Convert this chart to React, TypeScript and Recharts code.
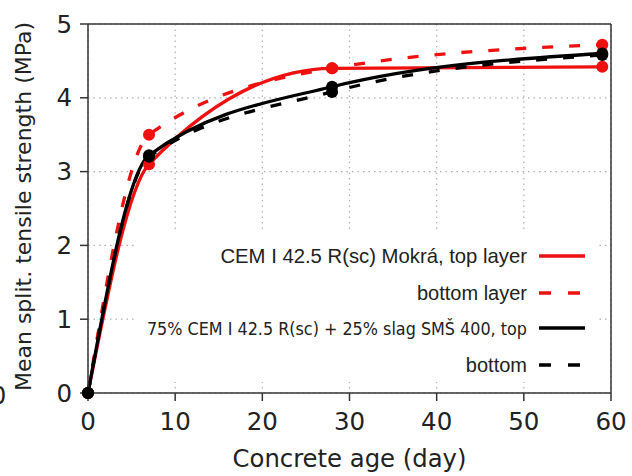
import { CartesianGrid, Label, Legend, Line, LineChart, ReferenceLine, XAxis, YAxis } from "recharts";

// concrete age (days) and mean splitting tensile strength (MPa)
const days = [0, 7, 28, 59];
const cemTop = [0, 3.1, 4.4, 4.42];
const cemBottom = [0, 3.5, 4.4, 4.72];
const slagTop = [0, 3.22, 4.15, 4.6];
const slagBottom = [0, 3.2, 4.08, 4.58];

const xTicks = [0, 10, 20, 30, 40, 50, 60];
const yTicks = [0, 1, 2, 3, 4, 5];

const data = days.map((d, i) => ({
  day: d,
  cemTop: cemTop[i],
  cemBottom: cemBottom[i],
  slagTop: slagTop[i],
  slagBottom: slagBottom[i],
}));

const RED = "#ef1010";
const BLACK = "#000";
const AXIS = "#333";
const TEXT = "#222";
const DV = "'DejaVu Sans', sans-serif";
const ARIAL = "'Liberation Sans', Arial, sans-serif";
const CONDENSED = "'DejaVu Sans Condensed', 'DejaVu Sans', sans-serif";

const series = [
  { key: "cemTop", label: "CEM I 42.5 R(sc) Mokrá, top layer", color: RED, dash: undefined, font: ARIAL, size: 20.3 },
  { key: "cemBottom", label: "bottom layer", color: RED, dash: "11 16", font: ARIAL, size: 20 },
  { key: "slagTop", label: "75% CEM I 42.5 R(sc) + 25% slag SMŠ 400, top", color: BLACK, dash: undefined, font: CONDENSED, size: 17.8 },
  { key: "slagBottom", label: "bottom", color: BLACK, dash: "11 16", font: ARIAL, size: 20 },
];

const rowY = [24, 61, 96, 133];

function LegendBox() {
  return (
    <svg width={462} height={150} style={{ display: "block" }}>
      {series.map((s, i) => (
        <g key={s.key}>
          <text
            x={392}
            y={rowY[i]}
            textAnchor="end"
            dominantBaseline="central"
            fontFamily={s.font}
            fontStretch={s.font === CONDENSED ? "condensed" : "normal"}
            fontSize={s.size}
            fill={TEXT}
          >
            {s.label}
          </text>
          <line
            x1={404}
            x2={450}
            y1={rowY[i]}
            y2={rowY[i]}
            stroke={s.color}
            strokeWidth={3.5}
            strokeDasharray={s.dash ? "12 17" : undefined}
          />
        </g>
      ))}
    </svg>
  );
}

function YTitle(props: any) {
  const vb = props.viewBox || { x: 0, y: 24, width: 88, height: 369 };
  const cy = vb.y + vb.height / 2 - 2;
  return (
    <g>
      <text
        transform={`translate(${vb.x + 31},${cy}) rotate(-90)`}
        textAnchor="middle"
        fontSize={22}
        fontFamily={DV}
        fill={TEXT}
      >
        Mean split. tensile strength (MPa)
      </text>
      <text x={vb.x - 9} y={vb.y + vb.height + 11} fontSize={24} fontFamily={DV} fill={TEXT}>
        0
      </text>
    </g>
  );
}

export default function App() {
  return (
    <div style={{ position: "absolute", left: 0, top: 0, background: "#fff" }}>
      <LineChart width={632} height={476} data={data} margin={{ top: 24, right: 21, bottom: 0, left: 0 }}>
        <CartesianGrid stroke="#b0b0b0" strokeDasharray="1.5 4" strokeWidth={1.2} />
        <XAxis
          type="number"
          dataKey="day"
          domain={[0, 60]}
          ticks={xTicks}
          height={83}
          tickSize={8}
          tickMargin={12}
          stroke={AXIS}
          strokeWidth={1.5}
          tick={{ fontSize: 24.5, fill: TEXT, fontFamily: DV }}
        >
          <Label
            value="Concrete age (day)"
            position="insideBottom"
            offset={9}
            style={{ fontSize: 24.3, fontFamily: DV, fill: TEXT }}
          />
        </XAxis>
        <YAxis
          type="number"
          domain={[0, 5]}
          ticks={yTicks}
          width={88}
          tickSize={8}
          tickMargin={8}
          stroke={AXIS}
          strokeWidth={1.5}
          tick={{ fontSize: 24.5, fill: TEXT, fontFamily: DV }}
        >
          <Label content={YTitle} />
        </YAxis>
        <ReferenceLine y={5} stroke={AXIS} strokeWidth={1.5} />
        <ReferenceLine x={60} stroke={AXIS} strokeWidth={1.5} />
        {series.map((s) => (
          <Line
            key={s.key}
            type="monotone"
            dataKey={s.key}
            stroke={s.color}
            strokeWidth={3.3}
            strokeDasharray={s.dash}
            dot={{ r: 6, fill: s.color, stroke: s.color, strokeWidth: 0 }}
            activeDot={false}
            isAnimationActive={false}
          />
        ))}
        <Legend
          layout="vertical"
          verticalAlign="middle"
          align="center"
          content={() => <LegendBox />}
          wrapperStyle={{ position: "absolute", left: 135, top: 232, width: 462, height: 150, background: "#fff" }}
        />
      </LineChart>
    </div>
  );
}
